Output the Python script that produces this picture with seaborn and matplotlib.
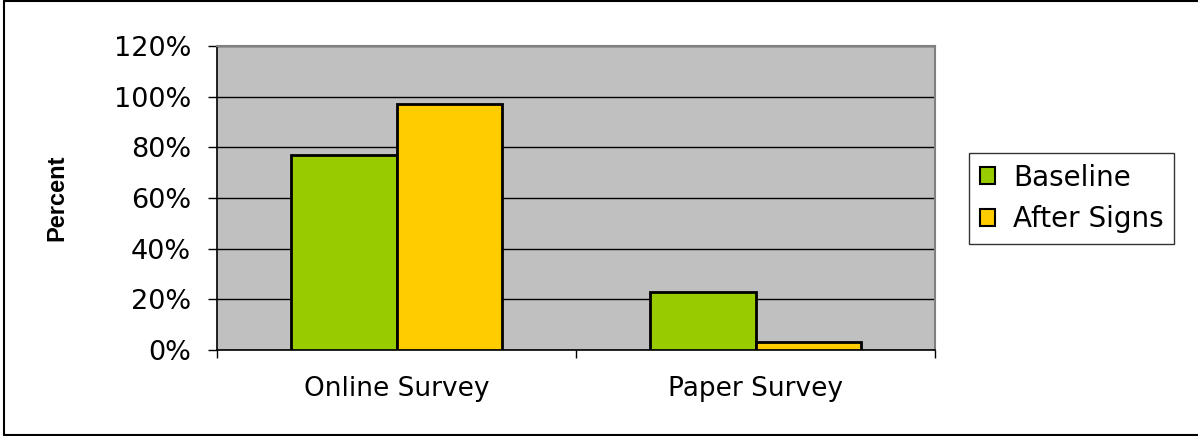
import matplotlib
matplotlib.use("Agg")
import matplotlib.pyplot as plt
import seaborn as sns
import pandas as pd
from matplotlib.lines import Line2D
from matplotlib.patches import Patch
from matplotlib.ticker import FixedLocator, PercentFormatter

categories = ["Online Survey", "Paper Survey"]
series = ["Baseline", "After Signs"]
baseline = [77, 23]
after_signs = [97, 3]
y_ticks = [0, 20, 40, 60, 80, 100, 120]
colors = ["#99CC00", "#FFCC00"]

df = pd.DataFrame({
    "Survey": categories * 2,
    "Series": [series[0]] * 2 + [series[1]] * 2,
    "Percent": baseline + after_signs,
})

sns.set_theme(style="white")
plt.rcParams["font.family"] = ["DejaVu Sans"]
plt.rcParams["text.color"] = "black"
plt.rcParams["xtick.color"] = "black"
plt.rcParams["ytick.color"] = "black"
plt.rcParams["axes.labelcolor"] = "black"

W, H = 1198, 436
fig = plt.figure(figsize=(W / 100, H / 100), dpi=100)
ax = fig.add_axes([217 / W, 1 - 350 / H, (935 - 217) / W, (350 - 46) / H])
ax.set_facecolor("#C0C0C0")

sns.barplot(data=df, x="Survey", y="Percent", hue="Series", palette=colors,
            saturation=1, width=0.585, edgecolor="black", linewidth=2,
            ax=ax, legend=False, zorder=3)

ax.set_ylim(0, 120)
ax.set_xlim(-0.5, 1.5)
ax.yaxis.set_major_locator(FixedLocator(y_ticks))
ax.yaxis.set_major_formatter(PercentFormatter(decimals=0))
ax.grid(axis="y", color="black", linewidth=1, zorder=0)
ax.set_axisbelow(True)

# category separators on the x axis
ax.set_xticks([0, 1])
ax.set_xticklabels(categories)
ax.set_xticks([-0.5, 0.5, 1.5], minor=True)
ax.tick_params(axis="x", which="major", length=0, pad=19, labelsize=19,
               labelcolor="black")
ax.tick_params(axis="x", which="minor", length=6, width=1, color="black",
               direction="out", bottom=True)
ax.tick_params(axis="y", length=6.5, width=1, color="black", direction="out",
               left=True, labelsize=19.5, pad=12, labelcolor="black")

for side in ["top", "right"]:
    ax.spines[side].set_color("#808080")
    ax.spines[side].set_linewidth(1.5)
for side in ["left", "bottom"]:
    ax.spines[side].set_color("black")
    ax.spines[side].set_linewidth(1.2)

ax.set_xlabel("")
ax.set_ylabel("")
fig.text(57 / W, 1 - 198 / H, "Percent", rotation=90, ha="center", va="center",
         fontsize=17, fontweight="bold", family="Liberation Sans", color="black")

handles = [Patch(facecolor=c, edgecolor="black", linewidth=1.5) for c in colors]
leg = fig.legend(handles, series, loc="upper left",
                 bbox_to_anchor=(969 / W, 1 - 153 / H), frameon=True,
                 fontsize=20, handlelength=0.55, handleheight=0.55,
                 handletextpad=0.65, borderpad=0.38, labelspacing=0.5,
                 borderaxespad=0, fancybox=False, labelcolor="black")
leg.get_frame().set_edgecolor("black")
leg.get_frame().set_linewidth(1)

# outer frame of the chart (left, top, bottom edges)
for xs, ys in [([3.5, 3.5], [1, 434.5]), ([3.5, W], [1, 1]), ([3.5, W], [434.5, 434.5])]:
    fig.add_artist(Line2D([x / W for x in xs], [1 - y / H for y in ys],
                          transform=fig.transFigure, color="black", linewidth=1.5))

fig.savefig("out.png", dpi=100, facecolor="white")
